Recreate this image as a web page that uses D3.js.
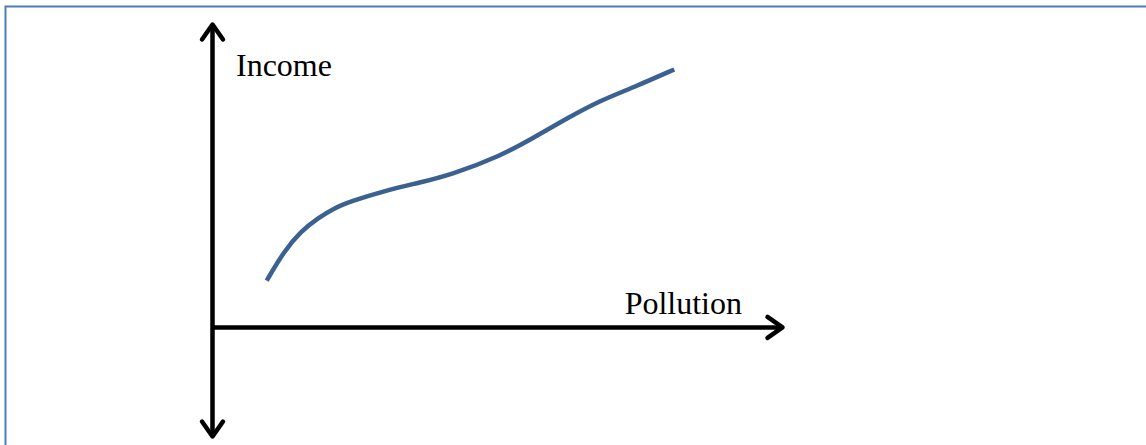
<!DOCTYPE html>
<html>
<head>
<meta charset="utf-8">
<script src="https://cdn.jsdelivr.net/npm/d3@7"></script>
<style>
  body { margin: 0; background: #fff; }
  svg { display: block; }
</style>
</head>
<body>
<svg id="chart" width="1146" height="445"></svg>
<script>
// curve (x: pollution, y: income, 0..100 units)
var pollution = [9.6, 12.6, 15.6, 18.6, 21.4, 24.4, 30.2, 36.1, 41.9, 50.7, 56.5, 62.5, 68.2, 74.0, 81.1]
var income    = [15.3, 24.9, 31.6, 35.9, 39.2, 41.5, 44.9, 47.5, 50.2, 56.5, 62.5, 69.1, 74.8, 79.1, 85.0]
var axisLabels = ["Pollution", "Income"]

var svg = d3.select("#chart")

// frame
svg.append("rect")
  .attr("x", 5.5).attr("y", 6.5)
  .attr("width", 1300).attr("height", 600)
  .attr("fill", "none")
  .attr("stroke", "#4a7ebb")
  .attr("stroke-width", 2)

var x = d3.scaleLinear().domain([0, 100]).range([212, 782])
var y = d3.scaleLinear().domain([-36, 100]).range([436, 24])

// open arrow heads
var defs = svg.append("defs")
defs.append("marker")
  .attr("id", "arrow")
  .attr("viewBox", "-20 -15 25 30")
  .attr("refX", 0).attr("refY", 0)
  .attr("markerWidth", 25).attr("markerHeight", 30)
  .attr("markerUnits", "userSpaceOnUse")
  .attr("orient", "auto-start-reverse")
  .append("path")
    .attr("d", "M-15,-10.5L0,0L-15,10.5")
    .attr("fill", "none")
    .attr("stroke", "#000")
    .attr("stroke-width", 4.5)
    .attr("stroke-linecap", "round")
    .attr("stroke-linejoin", "round")

// x axis (no ticks)
var gx = svg.append("g")
  .attr("transform", "translate(0," + y(0) + ")")
  .call(d3.axisBottom(x).tickValues([]).tickSizeOuter(0))
gx.select(".domain")
  .attr("stroke", "#000")
  .attr("stroke-width", 4.5)
  .attr("marker-end", "url(#arrow)")

// y axis, arrows at both ends
var gy = svg.append("g")
  .attr("transform", "translate(" + x(0) + ",0)")
  .call(d3.axisLeft(y).tickValues([]).tickSizeOuter(0))
gy.select(".domain")
  .attr("stroke", "#000")
  .attr("stroke-width", 4.5)
  .attr("marker-start", "url(#arrow)")
  .attr("marker-end", "url(#arrow)")

// the curve
var pts = pollution.map(function(d, i) { return [d, income[i]] })
var line = d3.line()
  .x(function(d) { return x(d[0]) })
  .y(function(d) { return y(d[1]) })
  .curve(d3.curveBasis)
svg.append("path")
  .datum(pts)
  .attr("d", line)
  .attr("fill", "none")
  .attr("stroke", "#3a6190")
  .attr("stroke-width", 4.5)

// labels
svg.append("text")
  .attr("x", x(100) - 40).attr("y", y(0) - 13)
  .attr("text-anchor", "end")
  .style("font-family", "'Liberation Serif', 'Times New Roman', serif")
  .style("font-size", "32px")
  .text(axisLabels[0])
svg.append("text")
  .attr("x", x(0) + 24).attr("y", y(83))
  .style("font-family", "'Liberation Serif', 'Times New Roman', serif")
  .style("font-size", "32px")
  .text(axisLabels[1])
</script>
</body>
</html>
